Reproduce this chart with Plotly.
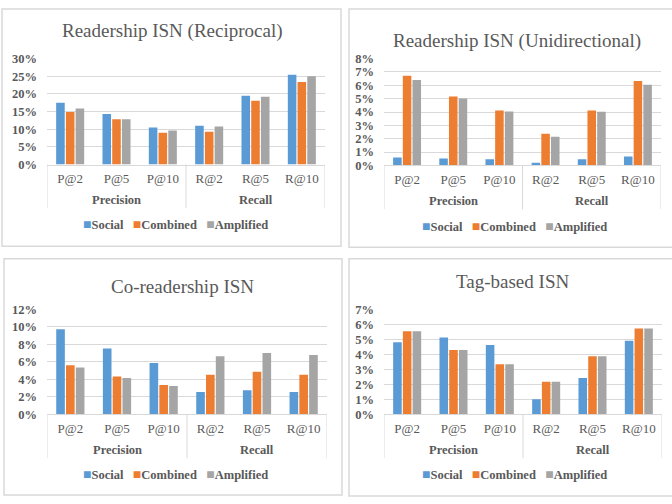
import plotly.graph_objects as go

W, H = 672, 504

# ---- data -------------------------------------------------------------
metrics = ["P@2", "P@5", "P@10", "R@2", "R@5", "R@10"]
groups = ["Precision", "Recall"]
series_names = ["Social", "Combined", "Amplified"]
series_colors = ["#5B9BD5", "#ED7D31", "#A5A5A5"]

reciprocal_social = [0.175, 0.143, 0.105, 0.110, 0.195, 0.254]
reciprocal_combined = [0.149, 0.128, 0.090, 0.093, 0.181, 0.234]
reciprocal_amplified = [0.159, 0.128, 0.096, 0.108, 0.192, 0.250]

unidirectional_social = [0.0060, 0.0053, 0.0046, 0.0020, 0.0046, 0.0068]
unidirectional_combined = [0.0672, 0.0516, 0.0412, 0.0238, 0.0412, 0.0633]
unidirectional_amplified = [0.0640, 0.0502, 0.0405, 0.0216, 0.0402, 0.0604]

coreadership_social = [0.0975, 0.0753, 0.0587, 0.0255, 0.0277, 0.0255]
coreadership_combined = [0.0561, 0.0432, 0.0336, 0.0454, 0.0487, 0.0454]
coreadership_amplified = [0.0535, 0.0417, 0.0325, 0.0665, 0.0702, 0.0679]

tagbased_social = [0.0482, 0.0513, 0.0463, 0.0101, 0.0243, 0.0491]
tagbased_combined = [0.0554, 0.0429, 0.0334, 0.0218, 0.0388, 0.0573]
tagbased_amplified = [0.0554, 0.0429, 0.0334, 0.0218, 0.0388, 0.0573]

panel_titles = [
    "Readership ISN (Reciprocal)",
    "Readership ISN (Unidirectional)",
    "Co-readership ISN",
    "Tag-based ISN",
]
panel_series = [
    [reciprocal_social, reciprocal_combined, reciprocal_amplified],
    [unidirectional_social, unidirectional_combined, unidirectional_amplified],
    [coreadership_social, coreadership_combined, coreadership_amplified],
    [tagbased_social, tagbased_combined, tagbased_amplified],
]
y_max = [0.30, 0.08, 0.12, 0.07]
y_step = [0.05, 0.01, 0.02, 0.01]

# ---- layout geometry (pixels) -----------------------------------------
def fx(px):
    return px / W


def fy(py):
    return 1 - py / H


# plot area: left, right, top, bottom
plot_boxes = [
    (47, 325, 53, 162),
    (384, 661, 53, 163),
    (47, 327, 311, 419),
    (384, 662, 311, 419),
]
# panel frame: left, right, top, bottom
frames = [
    (2, 341, 2, 246),
    (349, 680, 2, 247),
    (4, 342, 259, 502),
    (349, 680, 259, 503),
]
title_pos = [(172, 25), (517, 35), (182, 287), (512, 282)]
legend_pos = [(175, 224), (514, 226), (175, 481), (514, 481)]

SERIF = "Liberation Serif, Times New Roman, serif"
TEXT = "#595959"
GRID = "#D9D9D9"

fig = go.Figure()
shapes = []
annotations = []

for i in range(4):
    n = "" if i == 0 else str(i + 1)
    xa, ya = "x" + n, "y" + n
    left, right, top, bottom = plot_boxes[i]

    for name, color, vals in zip(series_names, series_colors, panel_series[i]):
        fig.add_trace(go.Bar(
            x=metrics, y=vals, name=name, marker_color=color,
            marker_line_width=0, showlegend=False,
            xaxis=xa, yaxis=ya,
        ))

    fig.update_layout({
        "xaxis" + n: dict(
            domain=[fx(left), fx(right)], anchor=ya,
            showline=True, linecolor=GRID, linewidth=1,
            showgrid=False, ticks="", ticklabelstandoff=2,
            tickfont=dict(family=SERIF, size=13, color=TEXT),
            range=[-0.5, 5.5], fixedrange=True,
        ),
        "yaxis" + n: dict(
            domain=[fy(bottom), fy(top)], anchor=xa,
            range=[0, y_max[i] * 1.001], dtick=y_step[i], tick0=0,
            tickformat=".0%", showline=False, zeroline=False,
            gridcolor=GRID, gridwidth=1, ticks="", ticklabelstandoff=9,
            tickfont=dict(family=SERIF, size=12.5, color=TEXT, weight="bold"),
            fixedrange=True,
        ),
    })

    # category group dividers below the axis
    div_end = bottom + 45
    for xv in (-0.5, 2.5, 5.5):
        shapes.append(dict(
            type="line", xref=xa, yref="paper",
            x0=xv, x1=xv, y0=fy(bottom), y1=fy(div_end),
            line=dict(color=GRID, width=1),
        ))
    for gx, g in zip((1, 4), groups):
        annotations.append(dict(
            x=gx, xref=xa, y=fy(bottom + 37), yref="paper",
            text=g, showarrow=False, xanchor="center", yanchor="middle",
            font=dict(family=SERIF, size=12.5, color=TEXT, weight="bold"),
        ))

    # chart title
    tx, ty = title_pos[i]
    annotations.append(dict(
        x=fx(tx), y=fy(ty), xref="paper", yref="paper",
        text=panel_titles[i], showarrow=False,
        xanchor="center", yanchor="middle",
        font=dict(family=SERIF, size=19, color=TEXT),
    ))

    # legend row
    parts = []
    for name, color in zip(series_names, series_colors):
        parts.append(
            f"<span style='color:{color};font-size:14px'>■</span>{name}"
        )
    lx, ly = legend_pos[i]
    annotations.append(dict(
        x=fx(lx), y=fy(ly), xref="paper", yref="paper",
        text="   ".join(parts), showarrow=False,
        xanchor="center", yanchor="middle",
        font=dict(family=SERIF, size=12.5, color=TEXT, weight="bold"),
    ))

    # panel frame
    fl, fr, ft, fb = frames[i]
    shapes.append(dict(
        type="rect", xref="paper", yref="paper",
        x0=fx(fl), x1=fx(fr), y0=fy(fb), y1=fy(ft),
        line=dict(color=GRID, width=1.5), fillcolor="rgba(0,0,0,0)",
        layer="below",
    ))

fig.update_layout(
    width=W, height=H,
    margin=dict(l=0, r=0, t=0, b=0),
    paper_bgcolor="white", plot_bgcolor="white",
    barmode="group", bargap=0.37, bargroupgap=0.12,
    shapes=shapes, annotations=annotations,
    showlegend=False,
)

fig.write_html("out.html", config={"displayModeBar": False})
